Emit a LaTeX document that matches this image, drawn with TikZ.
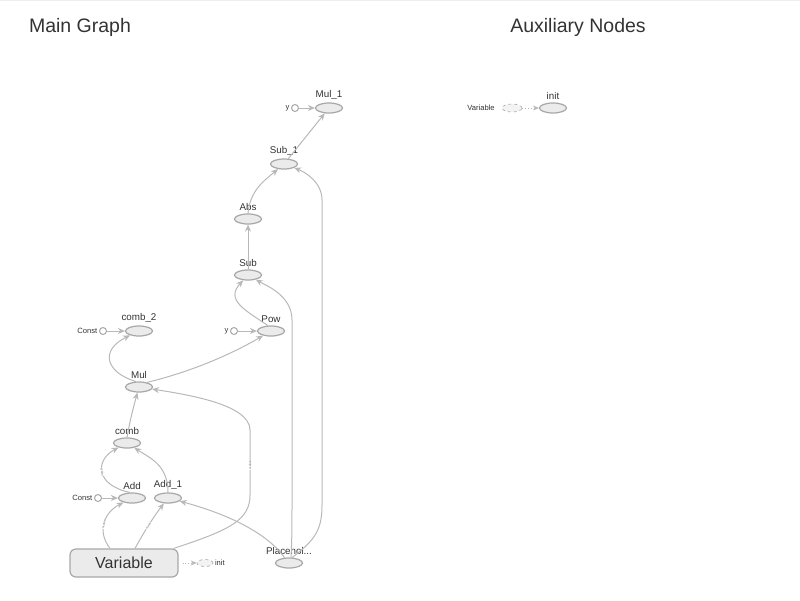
\documentclass[tikz,border=0pt]{standalone}
\usepackage{fontspec}
\setmainfont{Liberation Sans}
\usetikzlibrary{shapes.geometric,arrows.meta,calc}
\definecolor{edgec}{HTML}{B8B8B8}
\definecolor{nodefill}{HTML}{EBEBEB}
\definecolor{nodedraw}{HTML}{A8A8A8}
\definecolor{txt}{HTML}{333333}
\definecolor{topline}{HTML}{EEEEEE}
\begin{document}
\begin{tikzpicture}[x=1pt,y=-1pt,
 op/.style={ellipse, draw=nodedraw, fill=nodefill, line width=1.2pt, minimum width=27pt, minimum height=10pt, inner sep=0pt},
 lbl/.style={font=\fontsize{9.8}{11}\selectfont, text=txt, inner sep=1pt, label distance=1.5pt},
 small/.style={font=\fontsize{7.6}{8}\selectfont, text=txt, inner sep=1.5pt},
 cst/.style={circle, draw=nodedraw, fill=white, line width=1pt, minimum size=7pt, inner sep=0pt},
 dsh/.style={ellipse, draw=nodedraw, dashed, fill=nodefill!60, line width=0.6pt, minimum width=18pt, minimum height=7pt, inner sep=0pt},
 edge/.style={draw=edgec, line width=1pt, -{Stealth[length=7pt,width=6pt]}},
 dedge/.style={draw=edgec, line width=0.8pt, dotted, -{Stealth[length=6pt,width=5pt]}},
 sc/.style={font=\fontsize{3}{3}\selectfont, text=gray!80!black, sloped, fill=white, inner sep=0.2pt},
 ttl/.style={font=\fontsize{19.5}{21}\selectfont, text=txt, inner sep=0pt}
]
\path[use as bounding box] (0,0) rectangle (800,600);
\draw[topline, line width=2pt] (0,0) -- (800,0);

\node[ttl] (t1) at (80,27) {Main Graph};
\node[ttl] (t2) at (578,27) {Auxiliary Nodes};

% main graph nodes
\node[op, label={[lbl]above:Mul\_1}] (mul1) at (329,108) {};
\node[cst, label={[small]left:y}] (y1) at (295,108) {};
\node[op, label={[lbl]above:Sub\_1}] (sub1) at (284,164) {};
\node[op, label={[lbl]above:Abs}] (abs) at (248,219) {};
\node[op, label={[lbl]above:Sub}] (sub) at (248,275) {};
\node[op, label={[lbl]above:Pow}] (pow) at (271,331) {};
\node[cst, label={[small]left:y}] (y2) at (234,331) {};
\node[op, label={[lbl]above:comb\_2}] (comb2) at (139,331) {};
\node[cst, label={[small]left:Const}] (c1) at (103,331) {};
\node[op, label={[lbl]above:Mul}] (mul) at (139,387) {};
\node[op, label={[lbl]above:comb}] (comb) at (127,443) {};
\node[op, label={[lbl]above:Add}] (add) at (132,498) {};
\node[cst, label={[small]left:Const}] (c2) at (98,498) {};
\node[op, label={[lbl]above:Add\_1}] (add1) at (168,498) {};
\node[rectangle, rounded corners=6pt, draw=nodedraw, fill=nodefill, line width=1.2pt, minimum width=108pt, minimum height=28pt, inner sep=0pt, font=\fontsize{16}{18}\selectfont, text=txt] (var) at (124,563) {Variable};
\node[dsh, minimum width=16pt, label={[small]right:init}] (initd) at (205,563) {};
\node[op, label={[lbl]above:Placehol...}] (ph) at (289,563) {};

% aux nodes
\node[small] (avar) at (481,108) {Variable};
\node[dsh, minimum width=20pt, minimum height=8pt] (adsh) at (512,108) {};
\node[op, label={[lbl]above:init}] (ainit) at (553,108) {};

% short edges
\draw[edge] (y1) -- (mul1);
\draw[edge] (y2) -- (pow);
\draw[edge] (c1) -- (comb2);
\draw[edge] (c2) -- (add);
\draw[dedge] ([xshift=4pt]var.east) -- (initd);
\draw[dedge] (adsh) -- (ainit);

% main edges
\draw[edge] ([xshift=-14pt]var.north) .. controls (96,530) and (105,512) .. node[sc,pos=0.45]{scalar} (add);
\draw[edge] ([xshift=11pt]var.north) .. controls (145,530) and (155,515) .. node[sc,pos=0.45]{scalar} (add1);
\draw[edge] (add.110) .. controls (95,485) and (95,460) .. node[sc,pos=0.5]{scalar} (comb);
\draw[edge] (add1.north) .. controls (168,465) and (150,458) .. (comb);
\draw[edge] (comb.north) .. controls (130,420) and (134,405) .. (mul);
\draw[edge] ([xshift=-5pt]var.north east) .. controls (230,530) and (250,520) .. (250,495) -- node[sc,pos=0.45]{scalar} (250,430) .. controls (250,405) and (190,395) .. (mul);
\draw[edge] (ph.130) .. controls (265,530) and (220,512) .. (add1);
\draw[edge] ([xshift=2pt]ph.north) .. controls (292,540) and (292,520) .. (292,500) -- (292,320) .. controls (292,295) and (265,285) .. (sub);
\draw[edge] (ph.60) .. controls (315,540) and (322,530) .. (322,505) -- (322,200) .. controls (322,182) and (305,172) .. (sub1);
\draw[edge] (pow.120) .. controls (245,310) and (225,300) .. (sub);
\draw[edge] (sub) -- (abs);
\draw[edge] (abs.north) .. controls (250,190) and (265,180) .. (sub1);
\draw[edge] (sub1) -- (mul1);
\draw[edge] (mul.120) .. controls (105,372) and (100,350) .. (comb2);
\draw[edge] (mul.30) .. controls (190,372) and (230,355) .. (pow);
\end{tikzpicture}
\end{document}
